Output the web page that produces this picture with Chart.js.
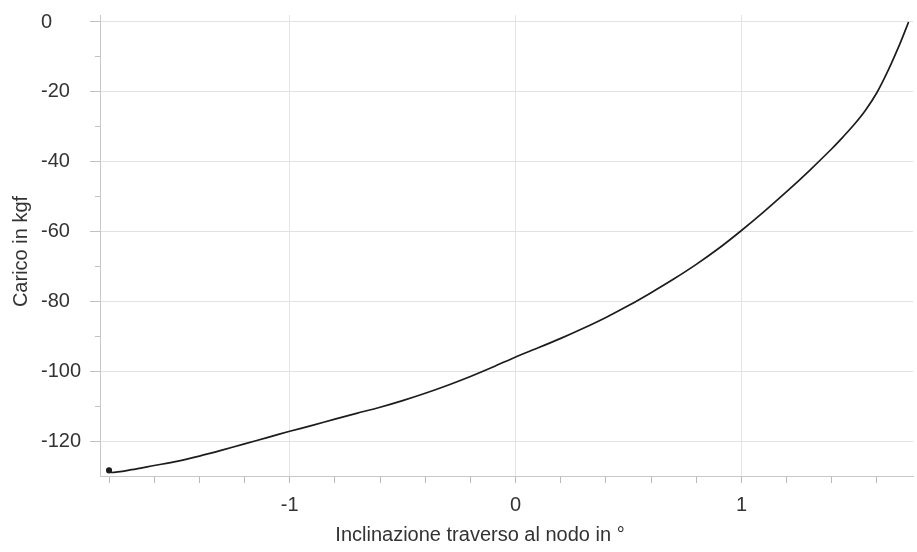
<!DOCTYPE html>
<html>
<head>
<meta charset="utf-8">
<script src="https://cdn.jsdelivr.net/npm/chart.js@4"></script>
<style>
html, body { margin: 0; padding: 0; background: #fff; }
#contenitore { width: 917px; height: 552px; }
</style>
</head>
<body>
<div id="contenitore"><canvas id="grafico"></canvas></div>
<script>
// valori
const inclinazione = [-1.80, -1.79, -1.70, -1.60, -1.50, -1.40, -1.30, -1.20, -1.10, -1.00,
    -0.90, -0.80, -0.70, -0.60, -0.50, -0.40, -0.30, -0.20, -0.10, 0.00,
    0.10, 0.20, 0.30, 0.40, 0.50, 0.60, 0.70, 0.80, 0.90, 1.00,
    1.10, 1.20, 1.30, 1.40, 1.45, 1.50, 1.55, 1.60, 1.65, 1.70, 1.74];
const carico = [-128.4, -129.0, -128.2, -127.0, -125.8, -124.3, -122.6, -120.8, -119.0, -117.2,
    -115.5, -113.7, -112.0, -110.3, -108.4, -106.3, -104.0, -101.5, -98.8, -95.9,
    -93.3, -90.6, -87.7, -84.6, -81.2, -77.5, -73.6, -69.4, -64.8, -59.7,
    -54.3, -48.6, -42.6, -36.3, -32.9, -29.3, -25.2, -20.2, -13.8, -6.5, 0.0];
const tickX = [-1.8, -1.6, -1.4, -1.2, -1, -0.8, -0.6, -0.4, -0.2, 0, 0.2, 0.4, 0.6, 0.8, 1, 1.2, 1.4, 1.6];
const tickY = [-120, -110, -100, -90, -80, -70, -60, -50, -40, -30, -20, -10, 0];
const titoloX = 'Inclinazione traverso al nodo in °';
const titoloY = 'Carico in kgf';

const font = { family: '"Liberation Sans", Arial, sans-serif', size: 20 };
const intero = v => Math.abs(v - Math.round(v)) < 1e-6;

const titoliAssi = {
    id: 'titoliAssi',
    afterDraw(chart) {
        const ctx = chart.ctx;
        const area = chart.chartArea;
        ctx.save();
        ctx.fillStyle = '#333';
        ctx.font = '20px "Liberation Sans", Arial, sans-serif';
        ctx.textAlign = 'center';
        ctx.textBaseline = 'middle';
        ctx.fillText(titoloX, 480, 535);
        ctx.translate(21, (area.top + area.bottom) / 2 + 6);
        ctx.rotate(-Math.PI / 2);
        ctx.fillText(titoloY, 0, 0);
        ctx.restore();
    }
};

const ctx = document.getElementById('grafico');

new Chart(ctx, {
    type: 'scatter',
    data: {
        datasets: [{
            label: titoloY,
            data: inclinazione.map((x, i) => ({ x: x, y: carico[i] })),
            showLine: true,
            borderColor: '#1c1c1c',
            backgroundColor: '#1c1c1c',
            borderWidth: 1.7,
            tension: 0.3,
            pointRadius: c => c.dataIndex === 0 ? 2.2 : 0,
            pointHoverRadius: 0
        }]
    },
    plugins: [titoliAssi],
    options: {
        responsive: true,
        maintainAspectRatio: false,
        animation: false,
        layout: { padding: { left: 41, top: 12, right: 0, bottom: 0 } },
        plugins: {
            legend: { display: false },
            tooltip: { enabled: false }
        },
        scales: {
            x: {
                type: 'linear',
                min: -1.84,
                max: 1.76,
                afterBuildTicks: s => { s.ticks = tickX.map(v => ({ value: v })); },
                afterFit: s => { s.height = 76; },
                border: { color: '#c8c8c8' },
                grid: {
                    color: c => c.tick && intero(c.tick.value) ? '#e4e4e4' : 'rgba(0,0,0,0)',
                    tickColor: '#b8b8b8',
                    tickLength: 7
                },
                ticks: {
                    color: '#333',
                    font: font,
                    padding: 10,
                    autoSkip: false,
                    maxRotation: 0,
                    callback: v => intero(v) ? String(Math.round(v)) : ''
                }
            },
            y: {
                type: 'linear',
                min: -130,
                max: 2,
                afterBuildTicks: s => { s.ticks = tickY.map(v => ({ value: v })); },
                afterFit: s => { s.width = 59; },
                border: { color: '#c8c8c8' },
                grid: {
                    color: c => c.tick && c.tick.value % 20 === 0 ? '#e2e2e2' : 'rgba(0,0,0,0)',
                    tickColor: '#c0c0c0',
                    tickLength: 10,
                    tickBorderDash: c => c.tick && c.tick.value % 20 === 0 ? [] : [0, 5, 5, 100]
                },
                ticks: {
                    color: '#333',
                    font: font,
                    crossAlign: 'far',
                    autoSkip: false,
                    callback: v => v % 20 === 0 ? String(v) : ''
                }
            }
        }
    }
});
</script>
</body>
</html>
